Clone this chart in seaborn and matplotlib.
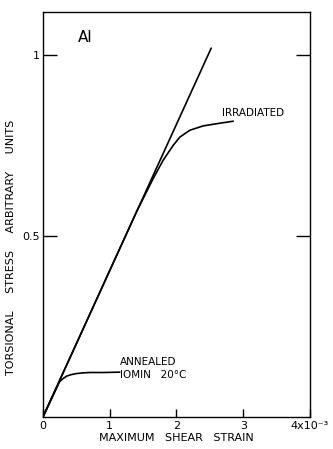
import matplotlib
matplotlib.use("Agg")
import matplotlib.pyplot as plt
import seaborn as sns
import pandas as pd

sns.set_theme(style="white")
plt.rcParams['font.family'] = ['DejaVu Sans']
plt.rcParams['text.color'] = 'black'
plt.rcParams['axes.labelcolor'] = 'black'
plt.rcParams['xtick.color'] = 'black'
plt.rcParams['ytick.color'] = 'black'

# Data (strain in 1e-3 units, stress in arbitrary units)
elastic_x = [0.0, 2.52]
elastic_y = [0.0, 1.02]

irr_x = [0.0, 1.4, 1.65, 1.80, 1.95, 2.05, 2.20, 2.40, 2.60, 2.85]
irr_y = [0.0, 0.567, 0.659, 0.71, 0.751, 0.774, 0.793, 0.805, 0.811, 0.818]

ann_x = [0.0, 0.25, 0.30, 0.355, 0.42, 0.5, 0.6, 0.70, 0.9, 1.15]
ann_y = [0.0, 0.098, 0.106, 0.113, 0.117, 0.120, 0.122, 0.123, 0.123, 0.124]

xticks = [0, 1, 2, 3, 4]
xticklabels = ["0", "1", "2", "3", "4x10⁻³"]
yticks = [0.5, 1.0]
yticklabels = ["0.5", "1"]

fig = plt.figure(figsize=(3.33, 4.49), dpi=100)
ax = fig.add_axes([0.129, 0.0713, 0.802, 0.902])

for xs, ys in [(elastic_x, elastic_y), (irr_x, irr_y), (ann_x, ann_y)]:
    df = pd.DataFrame({"x": xs, "y": ys})
    sns.lineplot(data=df, x="x", y="y", ax=ax, color="black", lw=1.2, sort=False)

ax.set_xlim(0, 4)
ax.set_ylim(0, 1.12)

ax.set_xticks(xticks)
ax.set_xticklabels(xticklabels, fontsize=8)
ax.set_yticks(yticks)
ax.set_yticklabels(yticklabels, fontsize=8)
ax.tick_params(axis="x", direction="in", length=6, width=1, color="black", pad=3, bottom=True)
ax.tick_params(axis="y", direction="in", length=10, width=1, color="black", pad=2,
               left=True, right=True)

for s in ax.spines.values():
    s.set_color("black")
    s.set_linewidth(1.0)

ax.set_xlabel("MAXIMUM   SHEAR   STRAIN", fontsize=8, labelpad=1)
ax.set_ylabel("TORSIONAL     STRESS     ARBITRARY     UNITS", fontsize=8, labelpad=6)
ax.yaxis.set_label_coords(-0.1, 0.42)

ax.text(0.63, 1.05, "Al", fontsize=11, ha="center", va="center")
ax.text(2.68, 0.842, "IRRADIATED", fontsize=7.5, ha="left", va="center")
ax.text(1.15, 0.152, "ANNEALED", fontsize=7.5, ha="left", va="center")
ax.text(1.15, 0.117, "IOMIN   20°C", fontsize=7.5, ha="left", va="center")

fig.savefig("out.png", dpi=100)
